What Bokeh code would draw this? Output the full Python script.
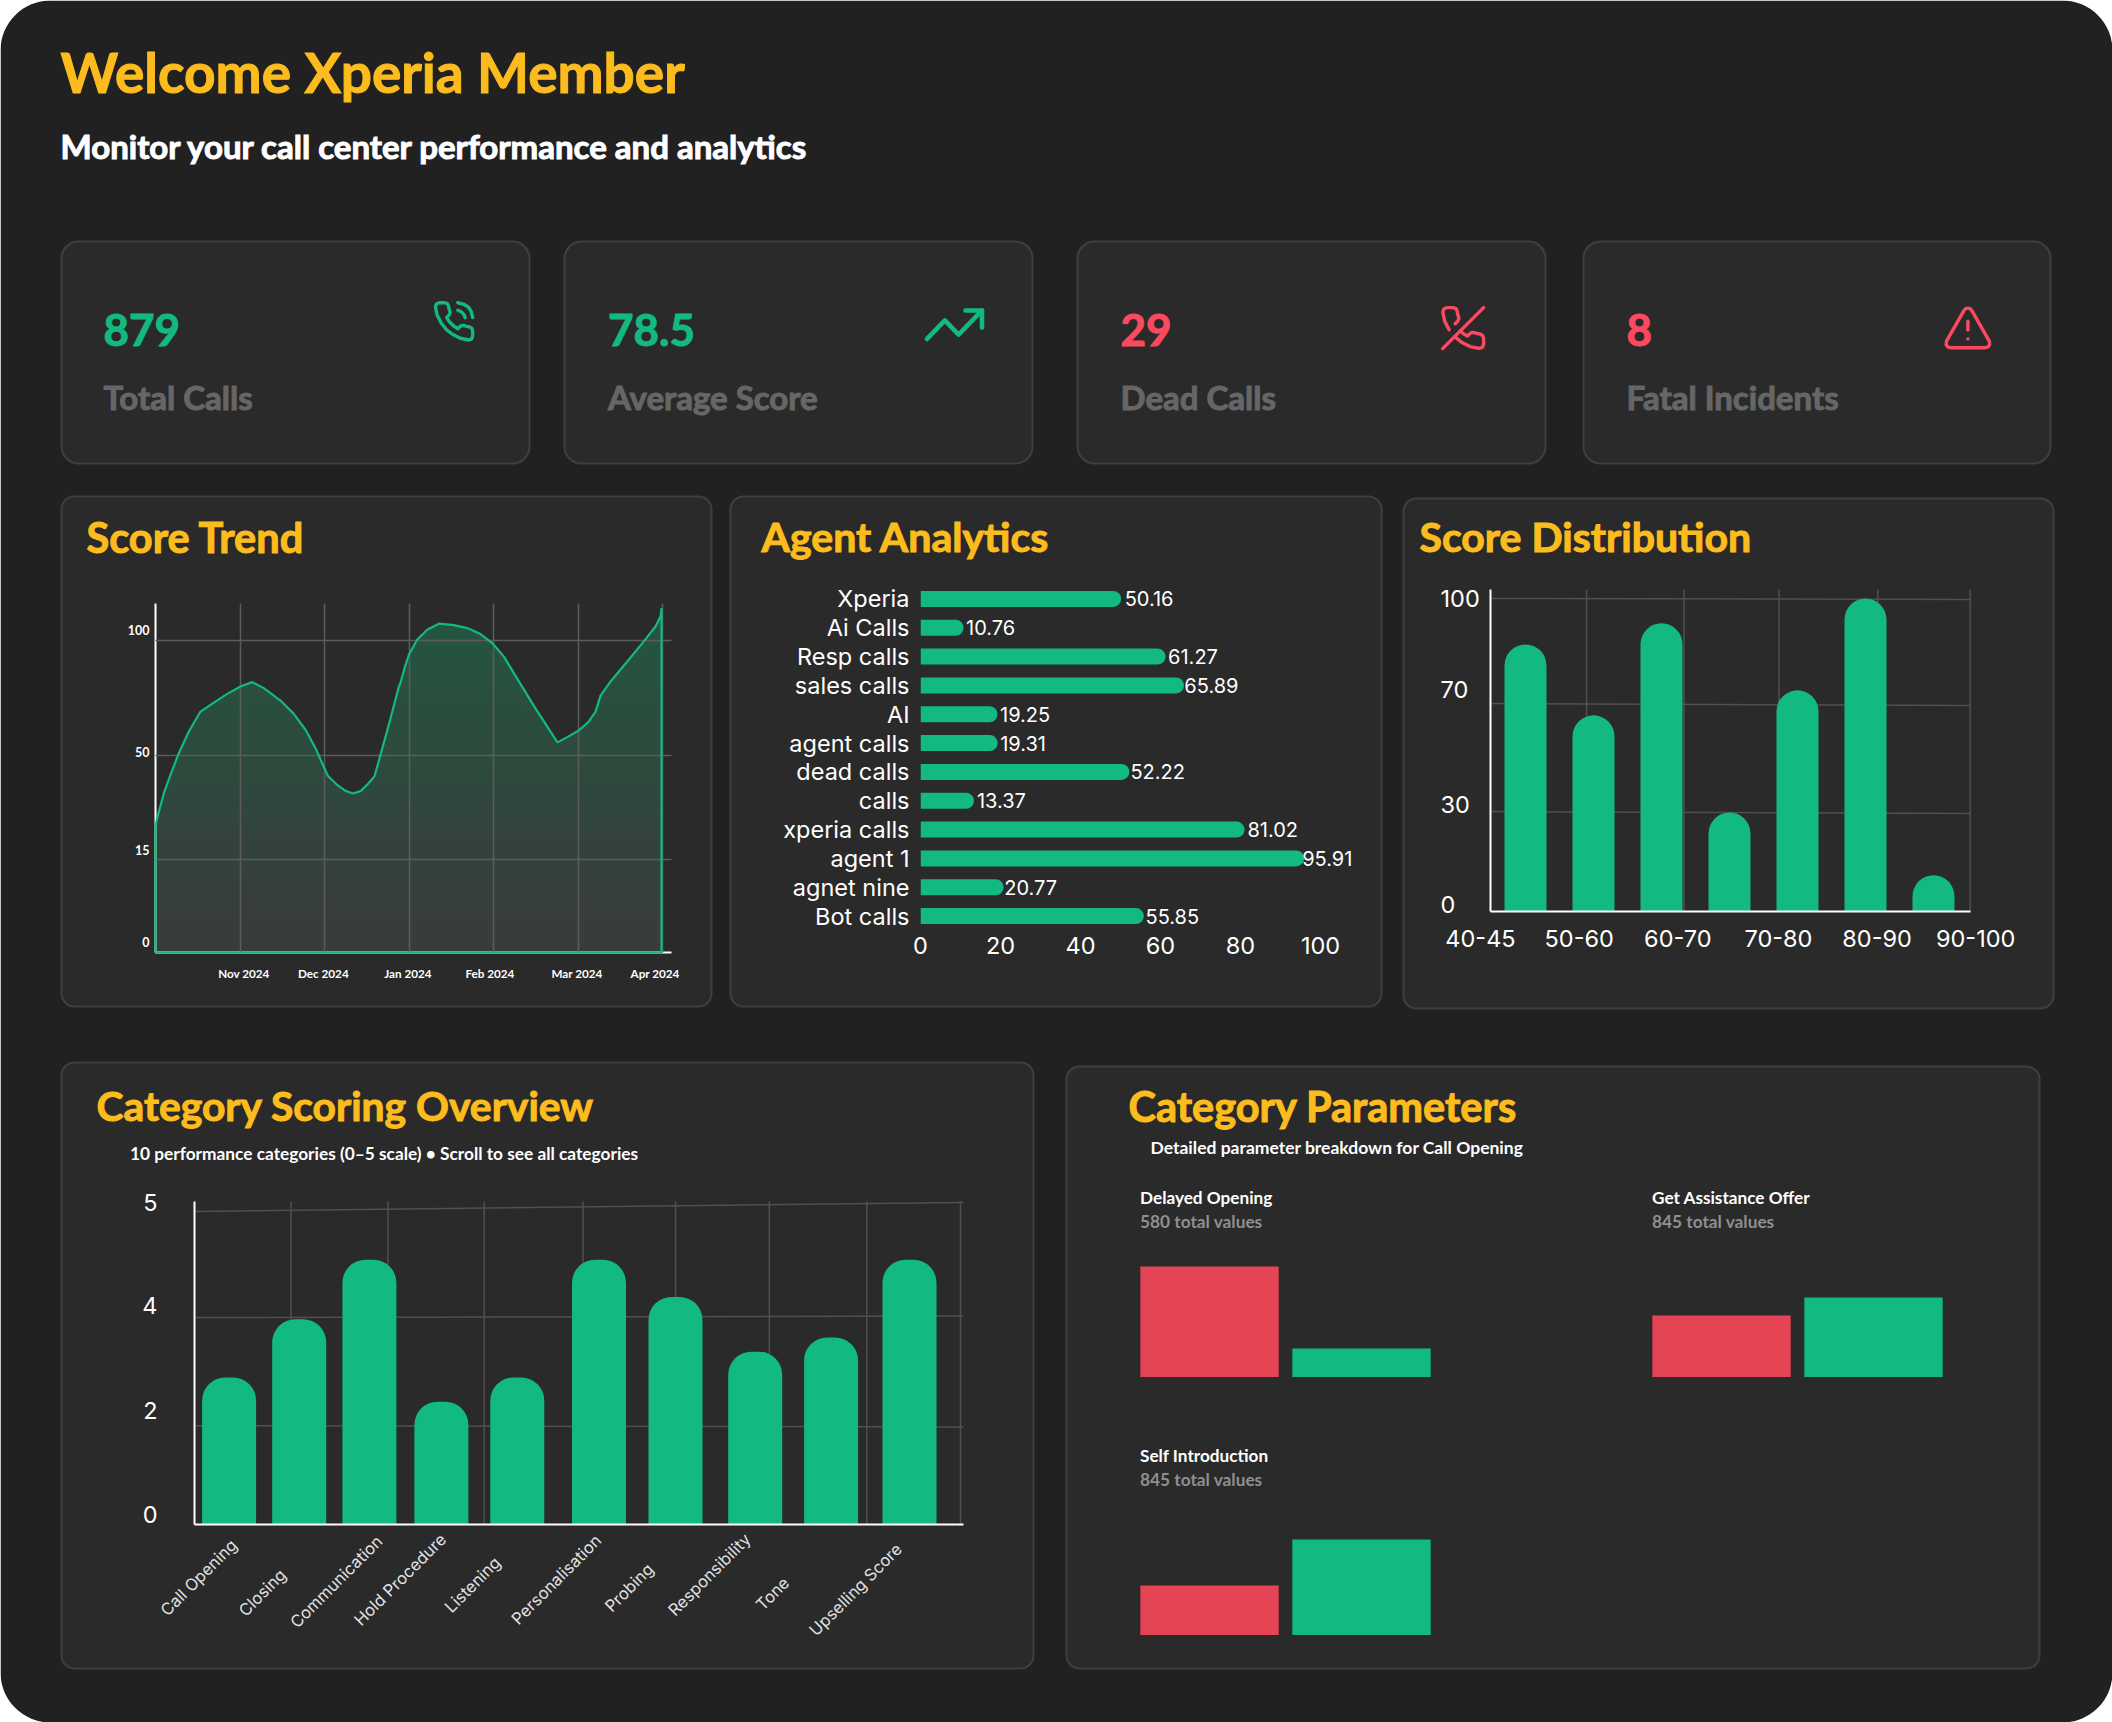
import numpy as np
from bokeh.core.properties import value
from bokeh.embed import file_html
from bokeh.models import ColumnDataSource, FactorRange, FixedTicker, LabelSet, Range1d, Column
from bokeh.plotting import figure
from bokeh.resources import INLINE

# ---- data ----------------------------------------------------------------
HEADER_TITLE = "Welcome Xperia Member"
HEADER_SUB = "Monitor your call center performance and analytics"
KPI_VALUES = ["879", "78.5", "29", "8"]
KPI_LABELS = ["Total Calls", "Average Score", "Dead Calls", "Fatal Incidents"]

TREND_MONTH = [0.0, 0.02, 0.099, 0.177, 0.276, 0.394, 0.532, 0.69, 0.848, 1.005, 1.143, 1.281, 1.478, 1.636, 1.774,
               1.892, 1.971, 2.038, 2.149, 2.247, 2.338, 2.425, 2.511, 2.59, 2.661, 2.759, 2.878, 2.897, 2.945, 2.996,
               3.094, 3.213, 3.351, 3.528, 3.686, 3.844, 3.982, 4.12, 4.238, 4.475, 4.753, 4.869, 5.007, 5.126, 5.204,
               5.263, 5.382, 5.579, 5.775, 5.913, 5.972, 5.984]
TREND_SCORE = [26.3, 28.9, 37.3, 43.5, 51.0, 60.4, 69.1, 73.0, 76.8, 80.0, 81.9, 79.3, 73.9, 68.1, 61.2,
               53.2, 47.4, 43.2, 40.1, 38.1, 37.2, 38.0, 40.4, 43.0, 50.3, 63.3, 80.0, 81.5, 88.0, 93.8,
               100.3, 104.7, 107.3, 106.7, 105.4, 102.8, 98.9, 93.0, 85.8, 71.6, 55.7, 58.0, 60.9, 64.8, 69.1,
               76.0, 82.2, 90.9, 99.6, 106.1, 110.4, 114.1]
TREND_MONTH_LABELS = ["Nov 2024", "Dec 2024", "Jan 2024", "Feb 2024", "Mar 2024", "Apr 2024"]
TREND_Y_TICKS = [0, 15, 50, 100]

AGENTS = ["Xperia", "Ai Calls", "Resp calls", "sales calls", "AI", "agent calls", "dead calls", "calls",
          "xperia calls", "agent 1", "agnet nine", "Bot calls"]
AGENT_SCORES = [50.16, 10.76, 61.27, 65.89, 19.25, 19.31, 52.22, 13.37, 81.02, 95.91, 20.77, 55.85]
AGENT_X_TICKS = [0, 20, 40, 60, 80, 100]

DIST_BARS = [87, 66, 93, 30, 74, 100, 11]
DIST_LABELS = ["40-45", "50-60", "60-70", "70-80", "80-90", "90-100"]
DIST_Y_TICKS = [0, 30, 70, 100]

CATEGORIES = ["Call Opening", "Closing", "Communication", "Hold Procedure", "Listening", "Personalisation",
              "Probing", "Responsibility", "Tone", "Upselling Score"]
CATEGORY_SCORES = [2.89, 3.95, 4.52, 2.45, 2.89, 4.52, 4.18, 3.36, 3.62, 4.52]
CATEGORY_Y_TICKS = [0, 2, 4, 5]

PARAM_NAMES = ["Delayed Opening", "Get Assistance Offer", "Self Introduction"]
PARAM_TOTALS = [580, 845, 845]
PARAM_RED = [453, 369, 298]
PARAM_GREEN = [118, 476, 571]

# ---- style / layout -------------------------------------------------------
W, H = 2112, 1722
BG, CARD, EDGE = "#212121", "#2a2a2a", "#3f3f3f"
YELLOW, GREEN, BAR_RED, RED = "#fdbc1e", "#12b981", "#e54454", "#fb4a5f"
GRID = "#505050"
HEAD, AXIS = "Lato", "Inter"
AXIS_PX = "23.5px"


def warp(values, ticks, tick_px):
    """The picture's axes space their unequal ticks evenly: map values onto that drawn scale."""
    t = list(ticks) + [ticks[-1] * 1.5]
    p = list(tick_px) + [tick_px[-1] + (tick_px[-1] - tick_px[-2]) * (ticks[-1] * 0.5) / (ticks[-1] - ticks[-2])]
    return np.interp(values, t, p)


def chart(l, t, r, b, x_range, y_range, pad=(130, 20, 60, 70)):
    p = figure(width=r - l + pad[0] + pad[2], height=b - t + pad[1] + pad[3], x_range=x_range, y_range=y_range,
               output_backend="svg", toolbar_location=None, frame_align=False,
               min_border_left=pad[0], min_border_top=pad[1],
               min_border_right=pad[2], min_border_bottom=pad[3], background_fill_color=None, border_fill_color=None,
               outline_line_color=None,
               styles={"position": "absolute", "left": f"{l - pad[0]}px", "top": f"{t - pad[1]}px"})
    p.grid.grid_line_color = GRID
    p.grid.grid_line_width = 1.5
    for ax in (p.xaxis, p.yaxis):
        ax.axis_line_color = "white"
        ax.axis_line_width = 2
        ax.major_tick_line_color = None
        ax.minor_tick_line_color = None
        ax.major_label_text_color = "white"
        ax.major_label_text_font = AXIS
        ax.major_label_text_font_size = AXIS_PX
    return p


def set_ticks(axis, positions, labels):
    positions = [round(float(v), 3) for v in positions]
    axis.ticker = FixedTicker(ticks=positions)
    axis.major_label_overrides = dict(zip(positions, labels))


def fix_axes(p, x0, x1, y0, y1):
    """Keep the axis lines at the plot corner while the frame is larger, so that labels outside stay visible."""
    p.grid.visible = False
    p.xaxis.fixed_location = y0
    p.xaxis.bounds = (x0, x1)
    p.yaxis.fixed_location = x0
    p.yaxis.bounds = (y0, y1)


def rules(p, x0, y0, x1, y1):
    p.segment(x0, y0, x1, y1, line_color=GRID, line_width=1.5, level="underlay")


# ---- page background, cards, headings, icons ------------------------------
bg = figure(width=W, height=H, x_range=Range1d(0, W), y_range=Range1d(H, 0), x_axis_type=None, y_axis_type=None,
            output_backend="svg", toolbar_location=None, frame_align=False, min_border=0, outline_line_color=None,
            background_fill_color=None, border_fill_color=None,
            styles={"position": "absolute", "left": "0px", "top": "0px"})
bg.grid.visible = False
bg.quad(left=[0], right=[W], top=[0], bottom=[H], fill_color=BG, line_color=None, border_radius=50)

KPI_BOXES = [(61, 529), (564, 1032), (1077, 1545), (1583, 2050)]
PANELS = [(61, 496, 711, 1006), (730, 496, 1381, 1006), (1403, 498, 2053, 1008),
          (61, 1062, 1033, 1668), (1066, 1066, 2039, 1668)]
for a, b_ in KPI_BOXES:
    bg.quad(left=[a], right=[b_], top=[241], bottom=[463], fill_color=CARD, line_color=EDGE, line_width=2,
            border_radius=17)
for a, t, b_, c in PANELS:
    bg.quad(left=[a], right=[b_], top=[t], bottom=[c], fill_color=CARD, line_color=EDGE, line_width=2,
            border_radius=13)


def label(x, y, s, size, color, style="bold", font=HEAD):
    """y is the text's baseline: middle-anchored at half the cap height above it."""
    outline = color if size >= 30 else None
    bg.text(x=[x], y=[y - 0.36 * size], text=[s], text_font=value(font), text_font_size=f"{size}px", text_color=color,
            text_font_style=style, text_baseline="middle", text_align="left", text_outline_color=outline)


label(60, 91, HEADER_TITLE, 55, YELLOW)
label(60, 157, HEADER_SUB, 33, "white")
KPI_X = [103, 607.5, 1120, 1626]
KPI_COLORS = [GREEN, GREEN, RED, RED]
for x, v, s, c in zip(KPI_X, KPI_VALUES, KPI_LABELS, KPI_COLORS):
    label(x, 345, v, 44, c)
    label(x, 408, s, 33, "#666666")
label(86, 551, "Score Trend", 41.5, YELLOW)
label(761, 551, "Agent Analytics", 41, YELLOW)
label(1419, 551, "Score Distribution", 41, YELLOW)
label(96, 1120, "Category Scoring Overview", 40.8, YELLOW)
label(1128, 1120, "Category Parameters", 41.5, YELLOW)
label(129.5, 1159, "10 performance categories (0\u20135 scale) \u2022 Scroll to see all categories", 17.3, "white")
label(1150, 1153, "Detailed parameter breakdown for Call Opening", 17.5, "white")
PARAM_TEXT_POS = [(1139.5, 1203), (1651.5, 1203), (1139.5, 1461)]
for (x, y), n, tot in zip(PARAM_TEXT_POS, PARAM_NAMES, PARAM_TOTALS):
    label(x, y, n, 17.2, "white")
    label(x, y + 24, f"{tot} total values", 17.3, "#8f8f8f")


def icon(paths, left, top, sx, sy, color, width=3.4):
    bg.multi_line([[left + px * sx for px, _ in path] for path in paths],
                  [[top + py * sy for _, py in path] for path in paths],
                  line_color=color, line_width=width, line_cap="round", line_join="round")


PHONE = [(22, 16.92), (22, 19.92), (21.4, 21.4), (19.82, 21.92), (15.4, 21.0), (11.19, 18.85), (7.8, 16.2),
         (5.19, 12.85), (3.0, 8.6), (2.12, 4.18), (2.6, 2.7), (4.11, 2), (7.11, 2), (8.5, 2.5), (9.11, 3.72),
         (9.35, 5.2), (9.81, 6.53), (9.9, 7.6), (9.36, 8.64), (8.09, 9.91), (9.6, 12.2), (11.6, 14.2), (14.09, 15.91),
         (15.36, 14.64), (16.4, 14.1), (17.47, 14.19), (18.8, 14.65), (20.28, 14.89), (21.5, 15.6), (22, 16.92)]
icon([PHONE, [(14.05, 2), (17, 2.7), (19.6, 4.3), (21.2, 6.6), (22.05, 9.94)],
      [(14.05, 6), (15.9, 6.8), (17.3, 8.2), (18, 10)]], 431, 298.5, 1.87, 1.87, GREEN)
icon([[(2, 17), (8.5, 10.5), (13.5, 15.5), (22, 7)], [(16, 7), (22, 7), (22, 13)]], 921, 290, 2.75, 2.85, GREEN, 4.6)
OFF_A = [(10.68, 13.31), (12.2, 14.8), (14.09, 15.91), (15.36, 14.64), (16.4, 14.1), (17.47, 14.19), (18.8, 14.65),
         (20.28, 14.89), (21.5, 15.6), (22, 16.92), (22, 19.92), (21.4, 21.4), (19.82, 21.92), (15.4, 21.0),
         (11.19, 18.85), (7.86, 16.18)]
OFF_B = [(5.19, 12.84), (3.0, 8.6), (2.12, 4.21), (2.6, 2.7), (4.11, 2), (7.11, 2), (8.5, 2.5), (9.11, 3.72),
         (9.35, 5.2), (9.81, 6.53), (9.9, 7.6), (9.36, 8.64), (8.09, 9.91)]
icon([OFF_A, OFF_B, [(22, 2), (2, 22)]], 1438, 303, 2.05, 2.05, RED)
ALERT = [(21.73, 18), (13.73, 4), (12.9, 3.1), (12, 3), (11.1, 3.1), (10.27, 4), (2.27, 18), (2.1, 19.6), (2.8, 20.6),
         (4, 21), (20, 21), (21.2, 20.6), (21.9, 19.6), (21.73, 18)]
icon([ALERT, [(12, 9), (12, 13)], [(12, 17), (12.01, 17)]], 1941, 301, 2.2, 2.2, RED)

# ---- Score Trend -----------------------------------------------------------
tr_l, tr_t, tr_r, tr_b = 155, 603, 671, 952
tr_px = [0, 93, 197, 312]
tr_unit = 84.56
tr = chart(tr_l, tr_t, tr_r, tr_b, Range1d(0, (tr_r - tr_l) / tr_unit), Range1d(0, tr_b - tr_t))
month = np.array(TREND_MONTH)
height = warp(TREND_SCORE, TREND_Y_TICKS, tr_px)
BANDS = 36
top_level = height.max()
c0, c1 = np.array([0x3a, 0x3a, 0x3a]), np.array([0x24, 0x56, 0x40])
for i in range(BANDS, 0, -1):
    f = i / BANDS
    col = (c0 + (c1 - c0) * f).round().astype(int)
    tr.varea(x=month, y1=0, y2=np.minimum(height, top_level * f), fill_color="#%02x%02x%02x" % tuple(col))
tr.grid.level = "annotation"
tr.grid.grid_line_color = "#5c5c5c"
tr.xgrid.ticker = FixedTicker(ticks=[1, 2, 3, 4, 5, 6])
tr.ygrid.ticker = FixedTicker(ticks=tr_px[1:])
closed_x = np.concatenate([[month[0]], month, [month[-1], month[0]]])
closed_y = np.concatenate([[0], height, [0, 0]])
tr.line(closed_x, closed_y, line_color=GREEN, line_width=2.2, level="overlay")
for ax in (tr.xaxis, tr.yaxis):
    ax.major_label_text_font = HEAD
    ax.major_label_text_font_style = "bold"
tr.xaxis.major_label_text_font_size = "11.7px"
tr.yaxis.major_label_text_font_size = "12.5px"
set_ticks(tr.xaxis, [1.046, 1.985, 2.985, 3.954, 4.985, 5.908], TREND_MONTH_LABELS)
set_ticks(tr.yaxis, [11, 103, 201, 323], [str(v) for v in TREND_Y_TICKS])
tr.xaxis.major_label_standoff = 7
tr.yaxis.major_label_standoff = 0

# ---- Agent Analytics -------------------------------------------------------
ag_row = 28.8
ag_l, ag_t, ag_r, ag_b = 920, 584, 1360, 930
ag = chart(ag_l, ag_t, ag_r, ag_b, Range1d(0, 110), FactorRange(*AGENTS[::-1], factor_padding=0, range_padding=0),
           pad=(180, 20, 60, 70))
ag.grid.visible = False
ag.hbar(y=AGENTS, left=0, right=AGENT_SCORES, height=16 / ag_row, fill_color=GREEN, line_color=None,
        border_radius=(0, 8, 8, 0))
ag.xaxis.axis_line_color = None
ag.yaxis.axis_line_color = None
ag.xaxis.ticker = FixedTicker(ticks=AGENT_X_TICKS)
ag.xaxis.major_label_standoff = 0
ag.yaxis.major_label_standoff = 5
VALUE_NUDGE = [3.5, 2.5, 2.5, 0.3, 2.5, 2.5, 1, 2.9, 2.9, -2, 0.7, 1.6]
ag_src = ColumnDataSource(dict(x=AGENT_SCORES, y=AGENTS, t=[f"{v:.2f}" for v in AGENT_SCORES], dx=VALUE_NUDGE))
ag.add_layout(LabelSet(x="x", y="y", text="t", x_offset="dx", source=ag_src, text_color="white",
                       text_font=value(AXIS), text_font_size="20px", text_baseline="middle", text_align="left"))

# ---- Score Distribution ----------------------------------------------------
ds_l, ds_t, ds_r, ds_b = 1490, 589, 1970, 911
ds_step, ds_first = 68.0, 35.0
ds_extra = (130, 70, 63, 20)
ds_x = list(range(len(DIST_BARS)))
ds_x0, ds_x1 = -ds_first / ds_step, (ds_r - ds_l - ds_first) / ds_step
ds = chart(ds_l - ds_extra[0], ds_t - ds_extra[3], ds_r + ds_extra[1], ds_b + ds_extra[2],
           Range1d(ds_x0 - ds_extra[0] / ds_step, ds_x1 + ds_extra[1] / ds_step),
           Range1d(-ds_extra[2], ds_b - ds_t + ds_extra[3]), pad=(0, 0, 0, 0))
ds_px = [0, 99, 207, 313]
fix_axes(ds, ds_x0, ds_x1, 0, ds_b - ds_t)
v_rules = [0.898, 2.33, 3.73, 5.18, 6.54]
rules(ds, v_rules, [0] * 5, v_rules, [ds_b - ds_t] * 5)
rules(ds, [ds_x0] * 3, [313, 208, 100], [ds_x1] * 3, [312, 206, 98])
ds.vbar(x=ds_x, top=warp(DIST_BARS, DIST_Y_TICKS, ds_px), width=42 / ds_step, fill_color=GREEN, line_color=None,
        border_radius=(21, 21, 0, 0))
ds.xaxis.ticker = FixedTicker(ticks=[])
ds.yaxis.ticker = FixedTicker(ticks=[])
ds_lab_x = [-0.662, 0.79, 2.24, 3.72, 5.17, 6.62]
ds.add_layout(LabelSet(x="x", y="y", text="t", y_offset=-27,
                       source=ColumnDataSource(dict(x=ds_lab_x, y=[0] * 6, t=DIST_LABELS)), text_color="white",
                       text_font=value(AXIS), text_font_size=AXIS_PX, text_baseline="middle", text_align="center"))
ds.add_layout(LabelSet(x="x", y="y", text="t", x_offset=-50,
                       source=ColumnDataSource(dict(x=[ds_x0] * 4, y=[7, 107, 222, 313],
                                                    t=[str(v) for v in DIST_Y_TICKS])), text_color="white",
                       text_font=value(AXIS), text_font_size=AXIS_PX, text_baseline="middle", text_align="left"))

# ---- Category Scoring Overview --------------------------------------------
ct_l, ct_t, ct_r, ct_b = 194, 1201, 963, 1524
ct_extra = (130, 60, 125, 20)
ct_w, ct_h = ct_r - ct_l, ct_b - ct_t
ct = chart(ct_l - ct_extra[0], ct_t - ct_extra[3], ct_r + ct_extra[1], ct_b + ct_extra[2],
           Range1d(-ct_extra[0], ct_w + ct_extra[1]), Range1d(-ct_extra[2], ct_h + ct_extra[3]), pad=(0, 0, 0, 0))
ct_px = [0, 98, 208, 317]
fix_axes(ct, 0, ct_w, 0, ct_h)
ct_rules = [96.4, 193.4, 289.7, 388.5, 481, 574.8, 672.3, 766]
rules(ct, ct_rules, [0] * 8, ct_rules, [ct_h] * 8)
rules(ct, [0] * 3, [98.8, 207, 313], [ct_w] * 3, [97.6, 208.5, 322])
ct_x = [34.6, 104.7, 174.9, 246.9, 322.8, 404.5, 481, 560.7, 636.6, 715]
ct.vbar(x=ct_x, top=warp(CATEGORY_SCORES, CATEGORY_Y_TICKS, ct_px), width=54, fill_color=GREEN, line_color=None,
        border_radius=(23, 23, 0, 0))
ct.xaxis.ticker = FixedTicker(ticks=[])
set_ticks(ct.yaxis, [10, 114, 219, 322], [str(v) for v in CATEGORY_Y_TICKS])
ct.yaxis.major_label_standoff = 31
ct_lab_x = [4, 67.7, 141.7, 205.5, 278, 361.7, 434.5, 514.8, 578, 661]
ct_lab_dy = [-53, -68, -57, -55, -60, -55, -63, -50, -69, -65]
ct_src = ColumnDataSource(dict(x=ct_lab_x, y=[0] * len(CATEGORIES), t=CATEGORIES, dy=ct_lab_dy))
ct.add_layout(LabelSet(x="x", y="y", text="t", y_offset="dy", source=ct_src, text_color="#e2e2e2",
                       text_font=value(AXIS), text_font_size="16.5px", text_baseline="middle", text_align="center",
                       angle=45, angle_units="deg"))

# ---- Category Parameters ---------------------------------------------------
PARAM_FRAMES = [(1133, 1235, 1377), (1645, 1235, 1377), (1133, 1493, 1635)]
PARAM_KEYS = ["Needs work", "Met"]
param_figs = []
for (l_, t_, b_), total, red, green in zip(PARAM_FRAMES, PARAM_TOTALS, PARAM_RED, PARAM_GREEN):
    q = chart(l_, t_, l_ + 304, b_, FactorRange(*PARAM_KEYS, factor_padding=0, range_padding=0), Range1d(0, total),
              pad=(0, 0, 0, 0))
    q.grid.visible = False
    q.axis.visible = False
    q.vbar(x=PARAM_KEYS, top=[red, green], width=0.91, fill_color=[BAR_RED, GREEN], line_color=None)
    param_figs.append(q)

root = Column(children=[bg, tr, ag, ds, ct] + param_figs, width=W, height=H, sizing_mode="fixed",
              styles={"position": "absolute", "left": "0px", "top": "0px"})
open("out.html", "w").write(file_html(root, INLINE))
